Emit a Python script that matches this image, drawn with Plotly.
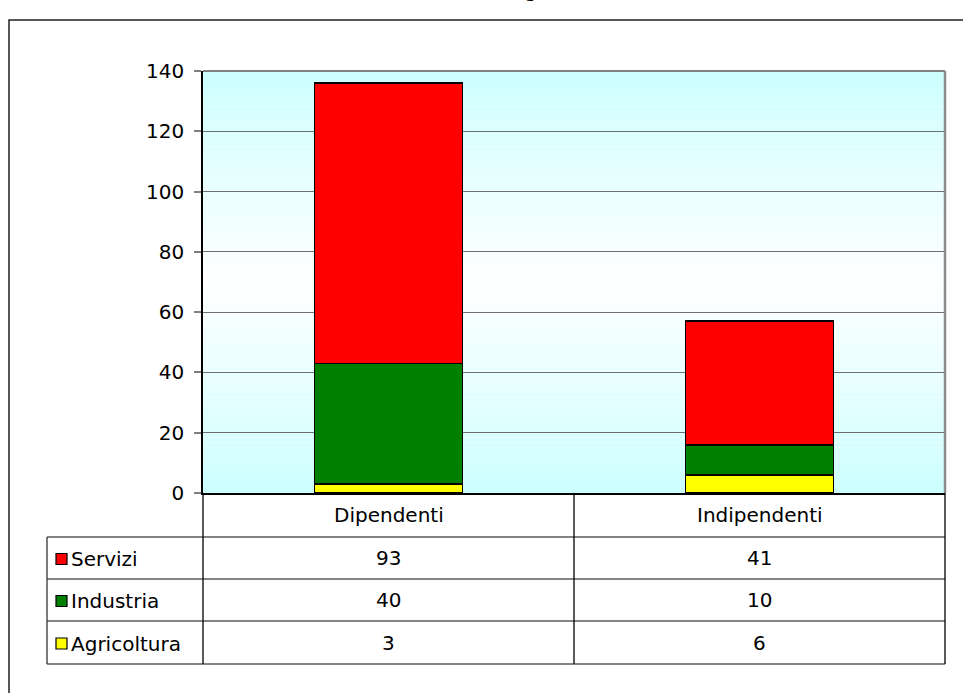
import plotly.graph_objects as go

# Employment by sector and position (thousands)
categories = ["Dipendenti", "Indipendenti"]
sectors = ["Servizi", "Industria", "Agricoltura"]  # table order, top to bottom
servizi = [93, 41]
industria = [40, 10]
agricoltura = [3, 6]
y_ticks = [0, 20, 40, 60, 80, 100, 120, 140]
title_text = "(valori in migliaia)"

values = {"Servizi": servizi, "Industria": industria, "Agricoltura": agricoltura}
colors = {"Servizi": "#ff0000", "Industria": "#008000", "Agricoltura": "#ffff00"}

FONT = "'DejaVu Sans', Arial, sans-serif"
FS = 20

# Canvas geometry (pixels)
W, H = 963, 693
L, R, T, B = 203, 18, 71, 200
PW, PH = W - L - R, H - T - B


def px(x):
    return (x - L) / PW


def py(y):
    return (H - B - y) / PH


fig = go.Figure()

# Stacked bars: bottom to top
for s in ["Agricoltura", "Industria", "Servizi"]:
    fig.add_trace(go.Bar(
        x=categories, y=values[s], name=s, width=0.4,
        marker=dict(color=colors[s], line=dict(color="black", width=1.5)),
        showlegend=False, hoverinfo="skip",
    ))

shapes = []

# Plot area gradient: cyan at the edges, white in the middle
ymax = y_ticks[-1]
nb = 84
for i in range(nb):
    y0 = ymax * i / nb
    y1 = ymax * (i + 1) / nb
    mid = (y0 + y1) / 2
    t = abs(mid - ymax / 2) / (ymax / 2)  # 0 centre, 1 edge
    r = round(255 - (255 - 204) * t)
    shapes.append(dict(type="rect", xref="paper", yref="y", x0=0, x1=1, y0=y0, y1=y1,
                       fillcolor=f"rgb({r},255,255)", line=dict(width=0), layer="below"))

# Plot area border (top and right)
shapes.append(dict(type="line", xref="paper", yref="paper", x0=0, x1=1, y0=1, y1=1,
                   line=dict(color="#808080", width=2)))
shapes.append(dict(type="line", xref="paper", yref="paper", x0=1, x1=1, y0=0, y1=1,
                   line=dict(color="#8c8c8c", width=2.5)))

# Data table grid
row_lines = [537, 579, 621, 664]
tab_left = 47
for yl in row_lines:
    shapes.append(dict(type="line", xref="paper", yref="paper", x0=px(tab_left), x1=1,
                       y0=py(yl), y1=py(yl), line=dict(color="#5a5a5a", width=1.3)))
for xv, xr in [(0, "paper"), (0.5, "x"), (1, "paper")]:
    shapes.append(dict(type="line", xref=xr, yref="paper", x0=xv, x1=xv,
                       y0=py(493), y1=py(row_lines[-1]), line=dict(color="black", width=1.3)))
shapes.append(dict(type="line", xref="paper", yref="paper", x0=px(tab_left), x1=px(tab_left),
                   y0=py(row_lines[0]), y1=py(row_lines[-1]), line=dict(color="#333333", width=1.3)))

annotations = []

# Column headers
for i, c in enumerate(categories):
    annotations.append(dict(xref="x", yref="paper", x=i, y=py(515), text=c, showarrow=False,
                            xanchor="center", yanchor="middle",
                            font=dict(family=FONT, size=FS, color="black")))

# Table rows: swatch, sector name, values
for k, s in enumerate(sectors):
    yc = (row_lines[k] + row_lines[k + 1]) / 2
    shapes.append(dict(type="rect", xref="paper", yref="paper",
                       x0=px(56), x1=px(67), y0=py(yc + 6.5), y1=py(yc - 4.5),
                       fillcolor=colors[s], line=dict(color="black", width=1.2)))
    annotations.append(dict(xref="paper", yref="paper", x=px(69), y=py(yc + 1), text=s,
                            showarrow=False, xanchor="left", yanchor="middle",
                            font=dict(family=FONT, size=FS, color="black")))
    for i in range(len(categories)):
        annotations.append(dict(xref="x", yref="paper", x=i, y=py(yc), text=str(values[s][i]),
                                showarrow=False, xanchor="center", yanchor="middle",
                                font=dict(family=FONT, size=FS, color="black")))

# Chart title (sits above the frame, mostly outside the canvas)
annotations.append(dict(xref="paper", yref="paper", x=px(495), y=py(4), text=title_text,
                        showarrow=False, xanchor="center", yanchor="bottom",
                        font=dict(family=FONT, size=FS, color="black")))

# Outer chart frame
shapes.append(dict(type="rect", xref="paper", yref="paper",
                   x0=px(9), x1=px(1010), y0=py(20), y1=py(740),
                   line=dict(color="#222222", width=1.5), fillcolor="rgba(0,0,0,0)"))

fig.update_layout(
    width=W, height=H,
    margin=dict(l=L, r=R, t=T, b=B, pad=0),
    barmode="stack",
    paper_bgcolor="white", plot_bgcolor="white",
    shapes=shapes, annotations=annotations,
    font=dict(family=FONT, size=FS, color="black"),
    xaxis=dict(range=[-0.5, 1.5], showticklabels=False, showgrid=False, zeroline=False,
               showline=True, linecolor="black", linewidth=1.5, ticks=""),
    yaxis=dict(range=[0, ymax], tickvals=y_ticks, showgrid=True, gridcolor="#6e6e6e",
               gridwidth=1, zeroline=False, showline=True, linecolor="black", linewidth=1.5,
               ticks="outside", ticklen=7, tickcolor="#808080", tickwidth=1.5,
               ticklabelstandoff=6,
               tickfont=dict(family=FONT, size=FS, color="black")),
)

fig.write_html("out.html")
